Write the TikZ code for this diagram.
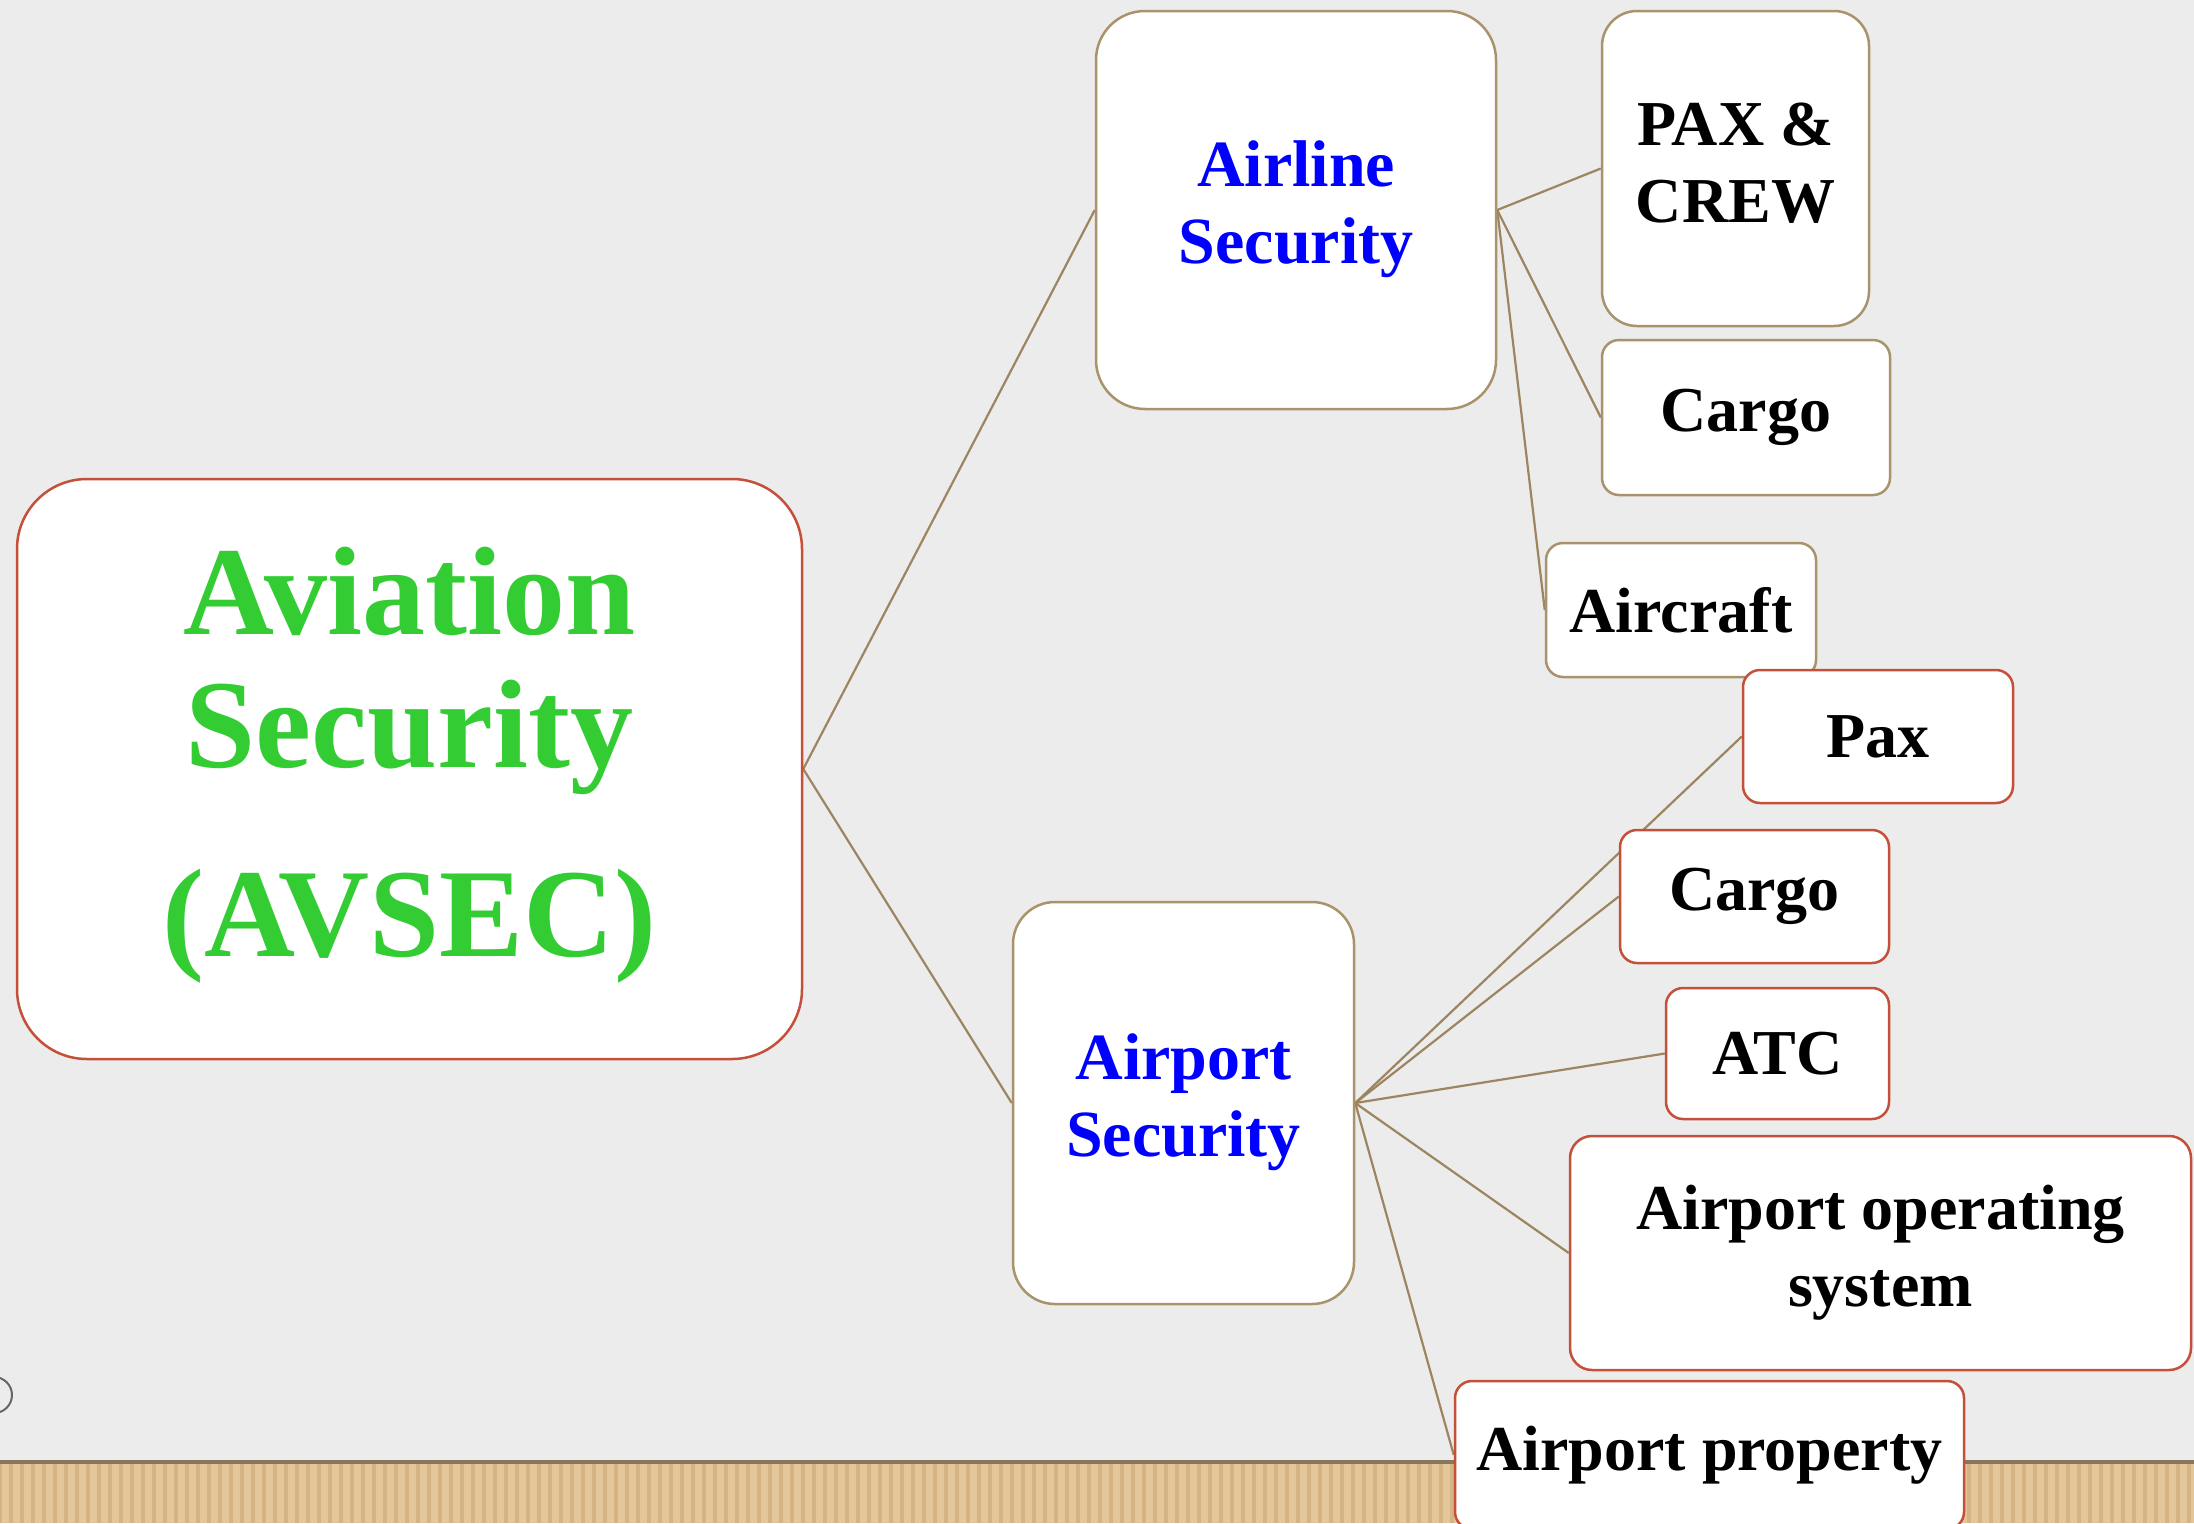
\documentclass[tikz,border=0pt]{standalone}
\usepackage{fontspec}
\setmainfont{Liberation Serif}
\pgfdeclarelayer{bg}
\pgfdeclarelayer{edges}
\pgfsetlayers{bg,edges,main}
\definecolor{bgc}{HTML}{ECECEC}
\definecolor{wood}{HTML}{E4C69B}
\definecolor{wooddark}{HTML}{D5B383}
\definecolor{conncol}{HTML}{9C8560}
\definecolor{tanborder}{HTML}{A8936C}
\definecolor{redborder}{HTML}{C4503A}
\definecolor{avgreen}{HTML}{33CC33}
\definecolor{avblue}{HTML}{0000FF}
\tikzset{
  conn/.style={draw=conncol, line width=2.2pt},
  mainbox/.style={draw=redborder, fill=white, line width=2.5pt, rounded corners=70pt, inner sep=0pt, align=center},
  tanbox/.style={draw=tanborder, fill=white, line width=2.5pt, inner sep=0pt, align=center},
  redbox/.style={draw=redborder, fill=white, line width=2.5pt, rounded corners=17pt, inner sep=0pt, align=center},
  blacklbl/.style={font=\bfseries\fontsize{64}{77}\selectfont, text=black},
  bluelbl/.style={font=\bfseries\fontsize{66}{77}\selectfont, text=avblue}
}
\begin{document}
\begin{tikzpicture}[x=1pt,y=-1pt]
\useasboundingbox (0,0) rectangle (2194,1523);
\clip (0,0) rectangle (2194,1523);
\begin{pgfonlayer}{bg}
  \fill[bgc] (0,0) rectangle (2194,1523);
  \fill[wood] (0,1462) rectangle (2194,1523);
  \foreach \i in {0,11,...,2194} {\draw[wooddark, line width=4pt] (\i,1464) -- (\i,1523);}
  \fill[black!40!wood] (0,1460) rectangle (2194,1464);
  \draw[black!60, line width=2pt] (-6,1395) circle[radius=18pt];
\end{pgfonlayer}

\node[mainbox, minimum width=785pt, minimum height=580pt, font=\bfseries\fontsize{126}{133}\selectfont, text=avgreen] (main) at (409.5,769) {\raisebox{8pt}{\begin{tabular}{@{}c@{}}Aviation\\Security\\[56pt](AVSEC)\end{tabular}}};

\node[tanbox, rounded corners=49pt, minimum width=400pt, minimum height=398pt, bluelbl] (airline) at (1296,210) {\raisebox{9pt}{\begin{tabular}{@{}c@{}}Airline\\Security\end{tabular}}};
\node[tanbox, rounded corners=42pt, minimum width=341pt, minimum height=402pt, bluelbl] (airport) at (1183.5,1103) {\raisebox{18pt}{\begin{tabular}{@{}c@{}}Airport\\Security\end{tabular}}};

\node[tanbox, rounded corners=35pt, minimum width=267pt, minimum height=315pt, blacklbl] (paxcrew) at (1735.5,168.5) {\raisebox{11pt}{\begin{tabular}{@{}c@{}}PAX \&\\CREW\end{tabular}}};
\node[tanbox, rounded corners=17pt, minimum width=288pt, minimum height=155pt, blacklbl] (cargoa) at (1746,417.5) {Cargo};
\node[tanbox, rounded corners=17pt, minimum width=270pt, minimum height=134pt, blacklbl] (aircraft) at (1681,610) {Aircraft};

\node[redbox, minimum width=270pt, minimum height=133pt, blacklbl] (pax) at (1878,736.5) {Pax};
\node[redbox, minimum width=269pt, minimum height=133pt, blacklbl] (cargob) at (1754.5,896.5) {Cargo};
\node[redbox, minimum width=223pt, minimum height=131pt, blacklbl] (atc) at (1777.5,1053.5) {ATC};
\node[redbox, rounded corners=22pt, minimum width=621pt, minimum height=234pt, blacklbl] (aos) at (1880.5,1253) {Airport operating\\system};
\node[redbox, minimum width=509pt, minimum height=148pt, blacklbl] (aprop) at (1709.5,1455) {Airport property};

\begin{pgfonlayer}{edges}
  \draw[conn] (main.east) -- (airline.west);
  \draw[conn] (main.east) -- (airport.west);
  \draw[conn] (airline.east) -- (paxcrew.west);
  \draw[conn] (airline.east) -- (cargoa.west);
  \draw[conn] (airline.east) -- (aircraft.west);
  \draw[conn] (airport.east) -- (pax.west);
  \draw[conn] (airport.east) -- (cargob.west);
  \draw[conn] (airport.east) -- (atc.west);
  \draw[conn] (airport.east) -- (aos.west);
  \draw[conn] (airport.east) -- (aprop.west);
\end{pgfonlayer}
\end{tikzpicture}
\end{document}
